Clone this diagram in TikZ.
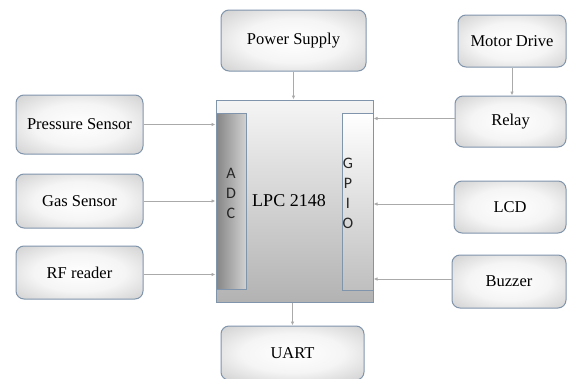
\documentclass[tikz,border=0pt]{standalone}
\usepackage{fontspec}
\setmainfont{Liberation Serif}
\newfontfamily\barfont{Carlito}
\usetikzlibrary{arrows.meta}
\definecolor{bordc}{RGB}{128,148,172}
\definecolor{arrc}{RGB}{170,170,170}
\pgfdeclareradialshading{boxshade}{\pgfpoint{0bp}{0bp}}{color(0bp)=(white); color(18bp)=(white!96!black); color(50bp)=(black!30); color(72bp)=(black!36)}
\begin{document}
\begin{tikzpicture}[x=1pt,y=-1pt,
  box/.style={draw=bordc, line width=1pt, rounded corners=8pt, shading=boxshade,
    font=\fontsize{16.5}{18}\selectfont, inner sep=0pt},
  conn/.style={draw=arrc, line width=0.8pt, -{Latex[length=4pt,width=3.5pt]}},
  bartext/.style={font=\barfont\fontsize{16}{20}\selectfont, align=center, text=black!85, inner sep=0pt}]
\useasboundingbox (0,0) rectangle (568,378);
% main controller
\node[draw=bordc, line width=1pt, top color=black!4, bottom color=black!30,
  minimum width=157pt, minimum height=202pt, inner sep=0pt] (lpc) at (294.5,201) {};
\node[draw=bordc, line width=1pt, left color=black!48, right color=black!18,
  minimum width=30pt, minimum height=176pt, inner sep=0pt] (adc) at (231,201) {};
\node[draw=bordc, line width=1pt, top color=white, bottom color=black!25,
  minimum width=31pt, minimum height=177pt, inner sep=0pt] (gpio) at (357.5,201.5) {};
\node[bartext] (adct) at (231,193) {A\\D\\C};
\node[bartext] (gpiot) at (348,193) {G\\P\\I\\O};
\node[font=\fontsize{18}{20}\selectfont, inner sep=0pt] (lpct) at (289,201) {LPC 2148};
% boxes
\node[box, minimum width=145pt, minimum height=61pt] (ps) at (293.5,40.5) {Power Supply};
\node[box, minimum width=127pt, minimum height=59pt] (pres) at (79.5,124.5) {Pressure Sensor};
\node[box, minimum width=127pt, minimum height=54pt] (gas) at (79.5,201) {Gas Sensor};
\node[box, minimum width=127pt, minimum height=53pt] (rf) at (79.5,272.5) {RF reader};
\node[box, minimum width=108pt, minimum height=52pt] (motor) at (512,41) {Motor Drive};
\node[box, minimum width=111pt, minimum height=51pt] (relay) at (510.5,121.5) {Relay};
\node[box, minimum width=112pt, minimum height=52pt] (lcd) at (510,207) {LCD};
\node[box, minimum width=114pt, minimum height=53pt] (buzz) at (509,281.5) {Buzzer};
\node[box, minimum width=143pt, minimum height=54pt] (uart) at (292.5,353) {UART};
% connectors
\draw[conn] (ps.south) -- (ps.south |- lpc.north);
\draw[conn] (motor.south) -- (motor.south |- relay.north);
\draw[conn] (pres.east) -- (pres.east -| lpc.west);
\draw[conn] (gas.east) -- (gas.east -| lpc.west);
\draw[conn] ([yshift=-2pt]rf.east) -- ([yshift=-2pt]rf.east -| lpc.west);
\draw[conn] ([yshift=3pt]relay.west) -- ([yshift=3pt]relay.west -| lpc.east);
\draw[conn] ([yshift=3pt]lcd.west) -- ([yshift=3pt]lcd.west -| lpc.east);
\draw[conn] ([yshift=2.5pt]buzz.west) -- ([yshift=2.5pt]buzz.west -| lpc.east);
\draw[conn] (lpc.south -| uart.north) -- (uart.north);
\end{tikzpicture}
\end{document}
